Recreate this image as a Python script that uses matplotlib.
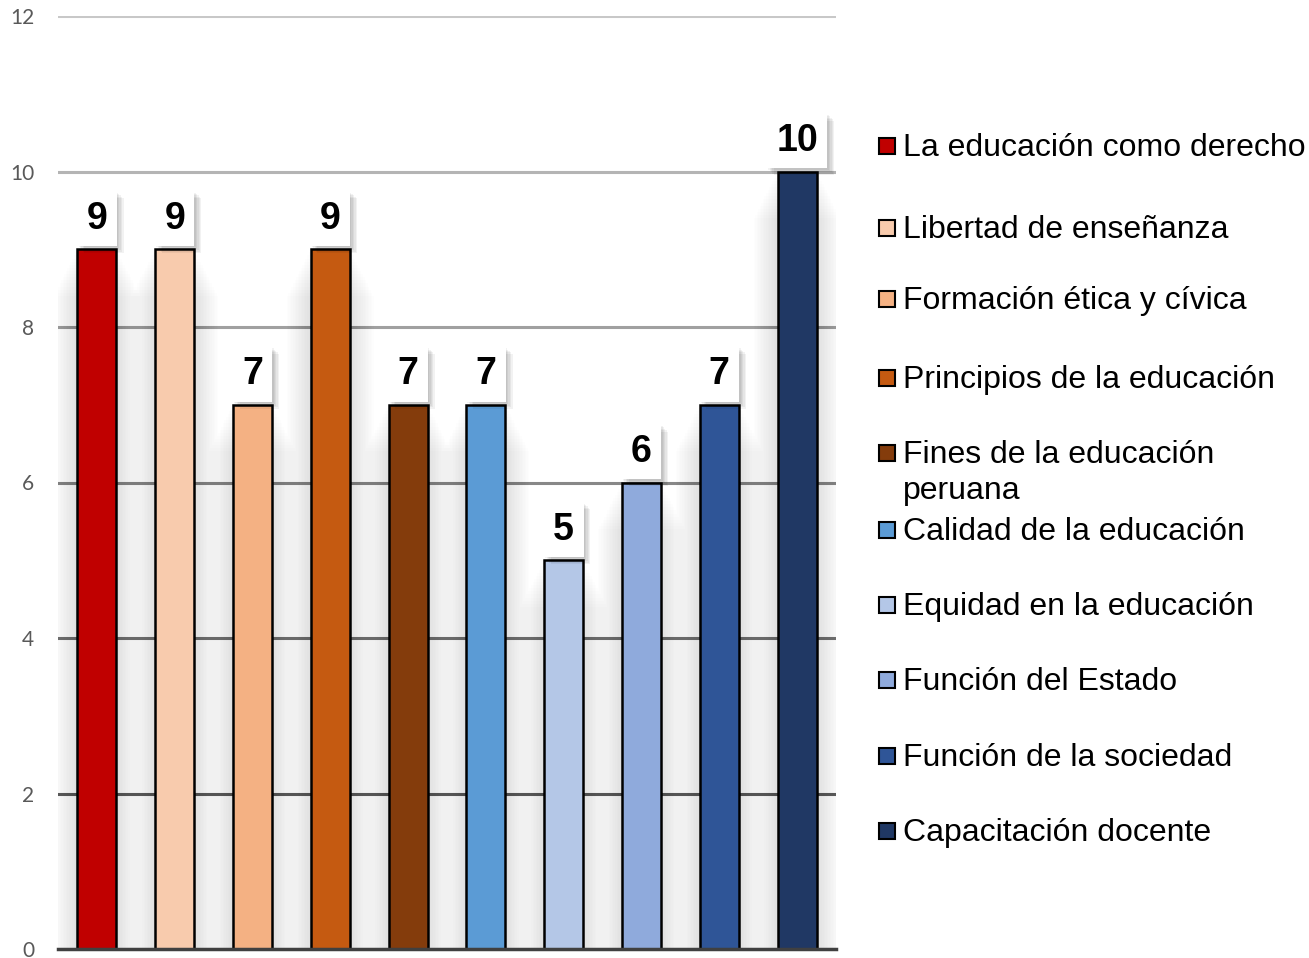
import matplotlib
matplotlib.use('Agg')
import matplotlib.pyplot as plt
import matplotlib.patheffects as pe
from matplotlib.patches import Rectangle

categorias = ['La educación como derecho', 'Libertad de enseñanza', 'Formación ética y cívica',
              'Principios de la educación', 'Fines de la educación\nperuana', 'Calidad de la educación',
              'Equidad en la educación', 'Función del Estado', 'Función de la sociedad',
              'Capacitación docente']
valores = [9, 9, 7, 9, 7, 7, 5, 6, 7, 10]
colores = ['#C00000', '#F8CBAD', '#F4B183', '#C55A11', '#843C0C',
           '#5B9BD5', '#B4C7E7', '#8FAADC', '#2F5597', '#203864']
yticks = [0, 2, 4, 6, 8, 10, 12]
grid_cols = ['#404040', '#5c5c5c', '#707070', '#888888', '#a0a0a0', '#b4b4b4', '#c8c8c8']

W, H = 1309, 958
fig = plt.figure(figsize=(W / 100, H / 100), dpi=100)
ax = fig.add_axes([58 / W, 1 - 949 / H, (836 - 58) / W, (949 - 16) / H])

x = list(range(len(valores)))

# gridlines get darker toward the bottom
for yv, gc in zip(yticks[1:], grid_cols[1:]):
    ax.axhline(yv, color=gc, linewidth=2.2, zorder=1)

# soft shadow behind the bars
for k in range(16):
    ax.bar(x, [v - 0.04 * k for v in valores], width=0.52 + 0.04 * k, color='black',
           alpha=0.009, linewidth=0, zorder=2)

ax.bar(x, valores, width=0.5, color=colores, edgecolor='black', linewidth=1.8, zorder=3)

for xi, v in zip(x, valores):
    t = ax.annotate(str(v), (xi, v), xytext=(0, 22), textcoords='offset points',
                    ha='center', va='center', fontsize=27, fontweight='bold',
                    family='Liberation Sans', color='black', zorder=5,
                    bbox=dict(boxstyle='square,pad=0.25', fc='white', ec='none'))
    shadows = [pe.SimplePatchShadow(offset=(o, -o), shadow_rgbFace='black', alpha=0.05)
               for o in (1, 2, 3, 4, 5)]
    t.get_bbox_patch().set_path_effects(shadows + [pe.Normal()])

ax.set_xlim(-0.5, 9.5)
ax.set_ylim(0, 12)
ax.set_yticks(yticks)
ax.set_xticks([])
for s in ['top', 'right', 'left']:
    ax.spines[s].set_visible(False)
ax.spines['bottom'].set_color(grid_cols[0])
ax.spines['bottom'].set_linewidth(2.5)
ax.spines['bottom'].set_zorder(4)
ax.tick_params(axis='y', length=0, pad=17, labelsize=15, labelcolor='#595959')
for lab in ax.get_yticklabels():
    lab.set_family('Lato')

# legend drawn by hand to keep the uneven spacing
leg_y = [146, 228, 299, 378, 453, 530, 605, 680, 756, 831]
for cat, col, yp in zip(categorias, colores, leg_y):
    fig.patches.append(Rectangle((879 / W, 1 - (yp + 8) / H), 16 / W, 16 / H,
                                 transform=fig.transFigure, facecolor=col,
                                 edgecolor='black', linewidth=1.5))
    fig.text(903 / W, 1 - (yp - 13) / H, cat, ha='left', va='top', fontsize=23,
             family='Liberation Sans', color='black', linespacing=1.25)

fig.savefig('out.png', dpi=100)
